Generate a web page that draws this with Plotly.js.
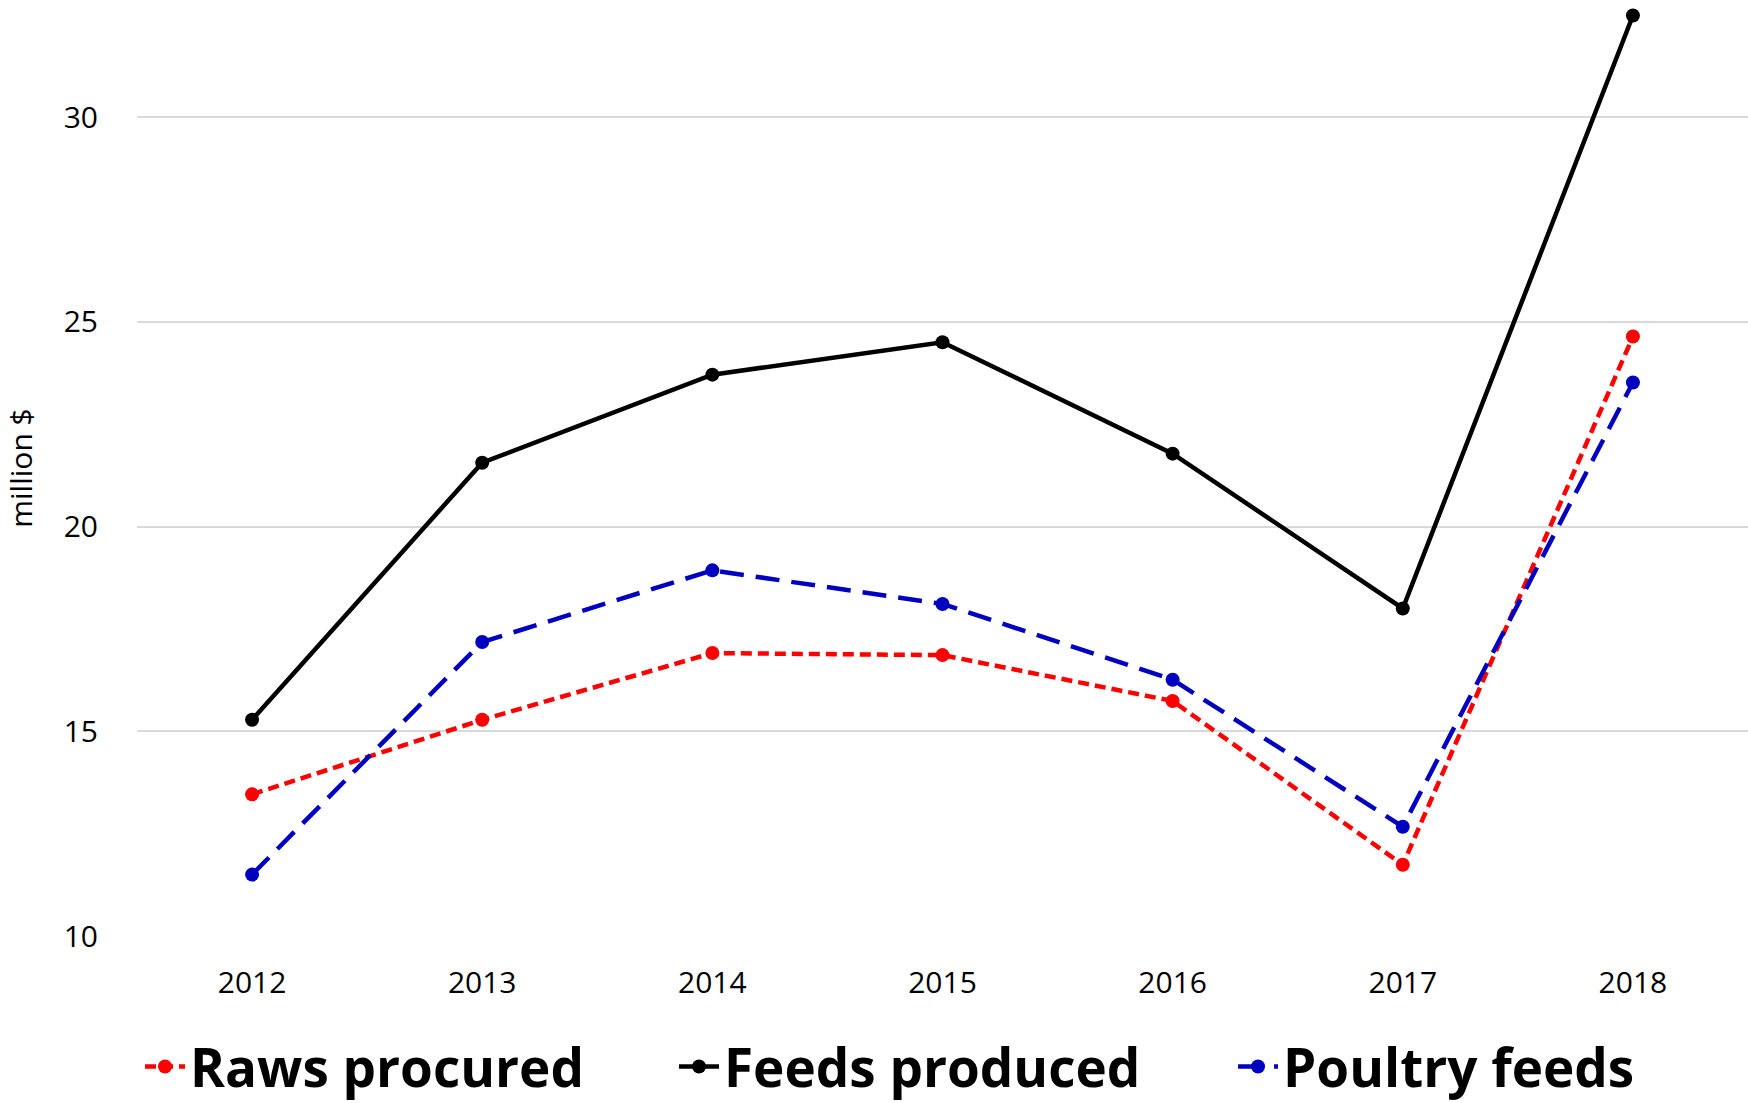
<!DOCTYPE html>
<html>
<head>
<meta charset="utf-8">
<script src="https://cdn.plot.ly/plotly-3.0.1.min.js"></script>
<style>html,body{margin:0;padding:0;background:#fff}#chart{width:1748px;height:1103px}</style>
</head>
<body>
<div id="chart"></div>
<script>
var years = ['2012','2013','2014','2015','2016','2017','2018'];
var rawsProcured = [13.46, 15.28, 16.91, 16.86, 15.74, 11.74, 24.64];
var feedsProduced = [15.28, 21.56, 23.71, 24.50, 21.78, 18.00, 32.48];
var poultryFeeds = [11.50, 17.18, 18.93, 18.11, 16.26, 12.67, 23.52];
var yTicks = [10, 15, 20, 25, 30];

var FONT = 'Open Sans, Liberation Sans, sans-serif';
var LEGFONT = {family: FONT, size: 53, weight: 'bold', color: '#000'};

var traces = [
  {x: years, y: rawsProcured, name: 'Raws procured', type: 'scatter', mode: 'lines+markers', legend: 'legend',
   line: {color: '#FF0000', width: 4.5, dash: '11px,6px'}, marker: {color: '#FF0000', size: 14}},
  {x: years, y: feedsProduced, name: 'Feeds produced', type: 'scatter', mode: 'lines+markers', legend: 'legend2',
   line: {color: '#000000', width: 4.5}, marker: {color: '#000000', size: 14}},
  {x: years, y: poultryFeeds, name: 'Poultry feeds', type: 'scatter', mode: 'lines+markers', legend: 'legend3',
   line: {color: '#0000C0', width: 4.5, dash: '24px,12px'}, marker: {color: '#0000C0', size: 14}}
];

function leg(x) {
  return {orientation: 'h', xref: 'container', yref: 'container', x: x, xanchor: 'left',
          y: 0.033, yanchor: 'middle', font: LEGFONT, itemwidth: 40, bgcolor: 'rgba(0,0,0,0)'};
}

var layout = {
  width: 1748, height: 1103,
  paper_bgcolor: '#fff', plot_bgcolor: '#fff',
  margin: {l: 137, r: 0, t: 0, b: 167, autoexpand: false},
  font: {family: FONT, color: '#000'},
  showlegend: true,
  legend: leg(0.0801),
  legend2: leg(0.3856),
  legend3: leg(0.7054),
  xaxis: {
    type: 'category', range: [-0.5, 6.5],
    showgrid: false, zeroline: false, showline: false, ticks: '',
    ticklabelstandoff: 26,
    tickfont: {family: FONT, size: 30, color: '#000'}
  },
  yaxis: {
    range: [10, 32.86], tickvals: yTicks, ticktext: yTicks.map(String),
    showgrid: true, gridcolor: '#D9D9D9', gridwidth: 2,
    zeroline: false, showline: false, ticks: '',
    ticklabelstandoff: 38,
    tickfont: {family: FONT, size: 30, color: '#000'},
    title: {text: 'million $', font: {family: FONT, size: 30, color: '#000'}, standoff: 25}
  }
};

Plotly.newPlot('chart', traces, layout, {displayModeBar: false});
</script>
</body>
</html>
